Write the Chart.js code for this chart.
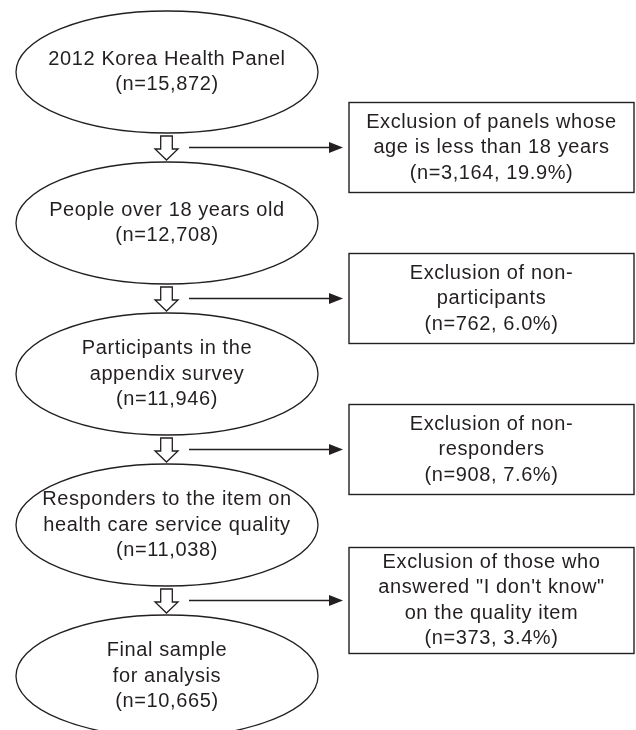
<!DOCTYPE html>
<html><head><meta charset="utf-8">
<script src="https://cdn.jsdelivr.net/npm/chart.js@4/dist/chart.umd.min.js"></script>
<style>html,body{margin:0;padding:0;background:#fff;}#wrap{width:636px;height:730px;}</style>
</head><body><div id="wrap"><canvas id="c" width="636" height="730"></canvas></div>
<script>
// ---- data ----
const stageTitles = [
  ["2012 Korea Health Panel"],
  ["People over 18 years old"],
  ["Participants in the", "appendix survey"],
  ["Responders to the item on", "health care service quality"],
  ["Final sample", "for analysis"]
];
const stageCounts = [15872, 12708, 11946, 11038, 10665];
const exclusionTitles = [
  ["Exclusion of panels whose", "age is less than 18 years"],
  ["Exclusion of non-", "participants"],
  ["Exclusion of non-", "responders"],
  ["Exclusion of those who", "answered \"I don't know\"", "on the quality item"]
];
const exclusionCounts = [3164, 762, 908, 373];
const exclusionPercents = ["19.9%", "6.0%", "7.6%", "3.4%"];

// ---- layout ----
const W = 636, H = 730;
const STAGE_X = 167, STAGE_Y0 = 72, STAGE_STEP = 151, STAGE_RX = 151, STAGE_RY = 61;
const BOX_LEFT = 349, BOX_RIGHT = 634;
const LINE_H = 25.5;
const INK = '#231f20';
const FONT = '20px "Liberation Sans", Arial, sans-serif';

const fmt = n => String(n).replace(/\B(?=(\d{3})+(?!\d))/g, ',');
const stageLines = stageTitles.map((t, i) => [...t, '(n=' + fmt(stageCounts[i]) + ')']);
const exclLines = exclusionTitles.map((t, i) => [...t, '(n=' + fmt(exclusionCounts[i]) + ', ' + exclusionPercents[i] + ')']);
const stagePoints = stageTitles.map((_, i) => ({ x: STAGE_X, y: STAGE_Y0 + i * STAGE_STEP }));
const exclPoints = exclusionTitles.map((_, i) => ({ x: (BOX_LEFT + BOX_RIGHT) / 2, y: STAGE_Y0 + (i + 0.5) * STAGE_STEP }));

function drawLines(ctx, lines, cx, cy, lh) {
  const top = cy - (lines.length - 1) * lh / 2;
  lines.forEach((s, k) => ctx.fillText(s, cx, top + k * lh));
}

const flowPlugin = {
  id: 'flow',
  afterDatasetsDraw(chart) {
    const ctx = chart.ctx, xs = chart.scales.x, ys = chart.scales.y;
    const px = v => xs.getPixelForValue(v), py = v => ys.getPixelForValue(v);
    const sx = Math.abs(px(1) - px(0)), sy = Math.abs(py(1) - py(0));
    ctx.save();
    ctx.strokeStyle = INK; ctx.fillStyle = INK; ctx.lineWidth = 1.3;
    ctx.font = FONT; ctx.textAlign = 'center'; ctx.textBaseline = 'middle';
    try { ctx.letterSpacing = '0.6px'; } catch (e) {}

    chart.getDatasetMeta(0).data.forEach((el, i) => {
      ctx.beginPath();
      ctx.ellipse(el.x, el.y, STAGE_RX * sx, STAGE_RY * sy, 0, 0, Math.PI * 2);
      ctx.stroke();
      drawLines(ctx, stageLines[i], el.x, el.y, LINE_H * sy);
    });

    chart.getDatasetMeta(1).data.forEach((el, i) => {
      const n = exclLines[i].length, h = (16 * n + 42) * sy;
      const l = px(BOX_LEFT), r = px(BOX_RIGHT);
      ctx.lineWidth = 1.4;
      ctx.strokeRect(l, el.y - h / 2, r - l, h);
      drawLines(ctx, exclLines[i], el.x, el.y, LINE_H * sy);

      // hollow down arrow
      const ax = px(STAGE_X - 0.5), ay = el.y;
      ctx.lineWidth = 1.3;
      ctx.beginPath();
      ctx.moveTo(ax - 5.8 * sx, ay - 11.5 * sy);
      ctx.lineTo(ax + 5.8 * sx, ay - 11.5 * sy);
      ctx.lineTo(ax + 5.8 * sx, ay + 1.5 * sy);
      ctx.lineTo(ax + 11.5 * sx, ay + 1.5 * sy);
      ctx.lineTo(ax, ay + 12.5 * sy);
      ctx.lineTo(ax - 11.5 * sx, ay + 1.5 * sy);
      ctx.lineTo(ax - 5.8 * sx, ay + 1.5 * sy);
      ctx.closePath();
      ctx.fillStyle = '#fff'; ctx.fill();
      ctx.stroke();
      ctx.fillStyle = INK;

      // side arrow
      ctx.beginPath();
      ctx.moveTo(px(189), ay); ctx.lineTo(px(331), ay);
      ctx.stroke();
      ctx.beginPath();
      ctx.moveTo(px(329), ay - 5.5 * sy);
      ctx.lineTo(px(343), ay);
      ctx.lineTo(px(329), ay + 5.5 * sy);
      ctx.closePath();
      ctx.fill();
    });
    ctx.restore();
  }
};

new Chart(document.getElementById('c'), {
  type: 'scatter',
  data: {
    datasets: [
      { label: 'stages', data: stagePoints, pointRadius: 0, showLine: false },
      { label: 'exclusions', data: exclPoints, pointRadius: 0, showLine: false }
    ]
  },
  options: {
    responsive: false,
    animation: false,
    events: [],
    layout: { padding: 0 },
    plugins: { legend: { display: false }, tooltip: { enabled: false } },
    scales: {
      x: { type: 'linear', display: false, min: 0, max: W },
      y: { type: 'linear', display: false, min: 0, max: H, reverse: true }
    }
  },
  plugins: [flowPlugin]
});
</script>
</body></html>
